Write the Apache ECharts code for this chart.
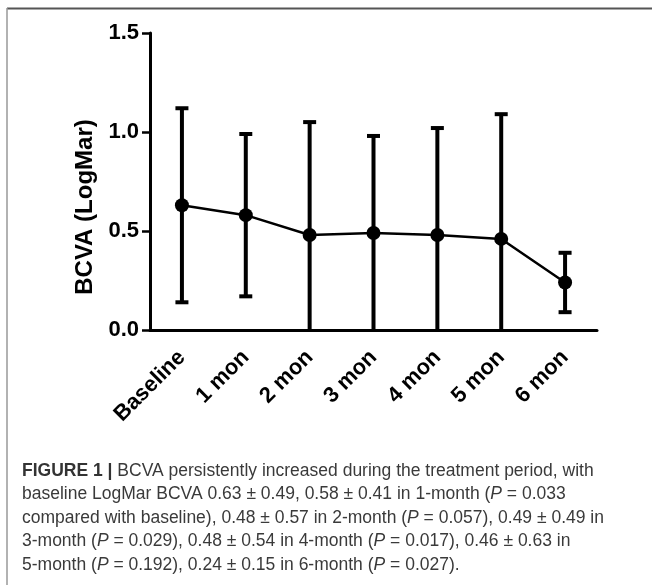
<!DOCTYPE html>
<html>
<head>
<meta charset="utf-8">
<script src="https://cdn.jsdelivr.net/npm/echarts@6/dist/echarts.min.js"></script>
<style>
html,body{margin:0;padding:0;background:#fff;}
#chart{width:652px;height:585px;}
</style>
</head>
<body>
<div id="chart"></div>
<script>
// ---- data ----
const categories = ['Baseline', '1 mon', '2 mon', '3 mon', '4 mon', '5 mon', '6 mon'];
const means = [0.63, 0.58, 0.48, 0.49, 0.48, 0.46, 0.24];
const upper = [1.12, 0.99, 1.05, 0.98, 1.02, 1.09, 0.39];
const lower = [0.14, 0.17, -0.09, 0.00, -0.06, -0.17, 0.09];
const yTicks = ['0.0', '0.5', '1.0', '1.5'];
const yAxisTitle = 'BCVA (LogMar)';
const captionLines = [
  '{b|FIGURE 1 |} BCVA persistently increased during the treatment period, with',
  'baseline LogMar BCVA 0.63 ± 0.49, 0.58 ± 0.41 in 1-month ({i|P} = 0.033',
  'compared with baseline), 0.48 ± 0.57 in 2-month ({i|P} = 0.057), 0.49 ± 0.49 in',
  '3-month ({i|P} = 0.029), 0.48 ± 0.54 in 4-month ({i|P} = 0.017), 0.46 ± 0.63 in',
  '5-month ({i|P} = 0.192), 0.24 ± 0.15 in 6-month ({i|P} = 0.027).'
];

const errData = categories.map((c, i) => [i, lower[i], upper[i]]);
const FONT = '"Liberation Sans", Arial, Helvetica, sans-serif';
const CAP_SIZE = 17.5;

const chart = echarts.init(document.getElementById('chart'));
chart.setOption({
  animation: false,
  backgroundColor: '#fff',
  grid: { left: 150, right: 55, top: 33, bottom: 255, containLabel: false },
  xAxis: {
    type: 'category',
    data: categories,
    boundaryGap: true,
    axisLine: { lineStyle: { color: '#000', width: 3 } },
    axisTick: { alignWithLabel: true, length: 7, lineStyle: { color: '#000', width: 2.5 } },
    axisLabel: { rotate: 45, margin: 24, color: '#000', fontFamily: FONT, fontWeight: 'bold', fontSize: 22 },
    splitLine: { show: false }
  },
  yAxis: {
    type: 'value',
    min: 0, max: 1.5, interval: 0.5,
    axisLine: { show: true, lineStyle: { color: '#000', width: 3 } },
    axisTick: { show: true, length: 8, lineStyle: { color: '#000', width: 2.5 } },
    axisLabel: {
      margin: 11, color: '#000', fontFamily: FONT, fontWeight: 'bold', fontSize: 22,
      formatter: function (v) { return yTicks[Math.round(v / 0.5)]; }
    },
    splitLine: { show: false }
  },
  series: [
    {
      type: 'custom',
      data: errData,
      z: 3,
      renderItem: function (params, api) {
        const i = api.value(0);
        const lo = api.value(1), hi = api.value(2);
        const top = api.coord([i, hi]);
        const bot = api.coord([i, Math.max(0, lo)]);
        const capW = 13;
        const children = [
          { type: 'line', shape: { x1: top[0], y1: top[1], x2: bot[0], y2: bot[1] + (lo <= 0 ? 2 : 0) }, style: { stroke: '#000', lineWidth: 4 } },
          { type: 'line', shape: { x1: top[0] - capW / 2, y1: top[1], x2: top[0] + capW / 2, y2: top[1] }, style: { stroke: '#000', lineWidth: 4 } }
        ];
        if (lo > 0) {
          children.push({ type: 'line', shape: { x1: bot[0] - capW / 2, y1: bot[1], x2: bot[0] + capW / 2, y2: bot[1] }, style: { stroke: '#000', lineWidth: 4 } });
        }
        return { type: 'group', children: children };
      }
    },
    {
      type: 'line',
      data: means,
      z: 4,
      symbol: 'circle',
      symbolSize: 14,
      itemStyle: { color: '#000' },
      lineStyle: { color: '#000', width: 2.5 }
    }
  ],
  graphic: [
    { type: 'line', shape: { x1: 7, y1: 8.5, x2: 652, y2: 8.5 }, style: { stroke: '#555', lineWidth: 2 } },
    { type: 'line', shape: { x1: 7, y1: 8, x2: 7, y2: 585 }, style: { stroke: '#999', lineWidth: 1.5 } },
    {
      type: 'text', x: 85, y: 207, rotation: Math.PI / 2,
      style: { text: yAxisTitle, font: 'bold 24px ' + FONT, fill: '#000', textAlign: 'center', textVerticalAlign: 'middle' }
    },
    {
      type: 'text', left: 22, top: 459,
      style: {
        text: captionLines.join('\n'),
        fontFamily: FONT, fontSize: CAP_SIZE, fill: '#3a3a3a', lineHeight: 23.5,
        rich: {
          b: { fontFamily: FONT, fontSize: CAP_SIZE, fontWeight: 'bold', fill: '#333', lineHeight: 23.5 },
          i: { fontFamily: FONT, fontSize: CAP_SIZE, fontStyle: 'italic', fill: '#3a3a3a', lineHeight: 23.5 }
        }
      }
    }
  ]
});
</script>
</body>
</html>
